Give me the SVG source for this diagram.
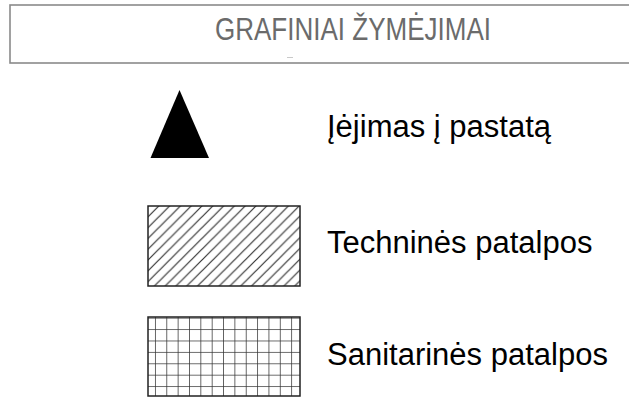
<svg xmlns="http://www.w3.org/2000/svg" width="629" height="413" viewBox="0 0 629 413">
<style>
.lbl{font-family:"Liberation Sans",Arial,sans-serif;font-size:31px;fill:#000}
.title{font-family:"Liberation Sans",Arial,sans-serif;font-size:31px;fill:#6b6b6b}
</style>
<defs>
<pattern id="hatch" patternUnits="userSpaceOnUse" width="10.8" height="10.8" x="148" y="206">
<path d="M-2.7,2.7 L2.7,-2.7 M0,10.8 L10.8,0 M8.1,13.5 L13.5,8.1" stroke="#333" stroke-width="1.2"/>
</pattern>
<pattern id="grid" patternUnits="userSpaceOnUse" width="11.35" height="11.4" x="143.6" y="306.3">
<path d="M0,0 V11.4 M0,0 H11.35" stroke="#333" stroke-width="1.5" fill="none"/>
</pattern>
</defs>
<rect width="629" height="413" fill="#fff"/>
<g id="header">
<rect x="10" y="5" width="640" height="58" fill="none" stroke="#8a8a8a" stroke-width="1.6"/>
<text class="title" x="215" y="40" textLength="276" lengthAdjust="spacingAndGlyphs">GRAFINIAI ŽYMĖJIMAI</text>
<line x1="287" y1="57.5" x2="293" y2="57.5" stroke="#bbb" stroke-width="0.8"/>
</g>
<g id="entrance">
<polygon points="179.5,90 150.5,158 209,158" fill="#000"/>
<text class="lbl" x="327" y="137">Įėjimas į pastatą</text>
</g>
<g id="technical">
<rect x="148" y="206" width="152" height="80" fill="url(#hatch)" stroke="#222" stroke-width="1.5"/>
<text class="lbl" x="327" y="253">Techninės patalpos</text>
</g>
<g id="sanitary">
<rect x="148" y="317" width="152" height="79" fill="url(#grid)" stroke="#222" stroke-width="1.5"/>
<text class="lbl" x="327" y="365">Sanitarinės patalpos</text>
</g>
<g id="connectors"></g>
</svg>
